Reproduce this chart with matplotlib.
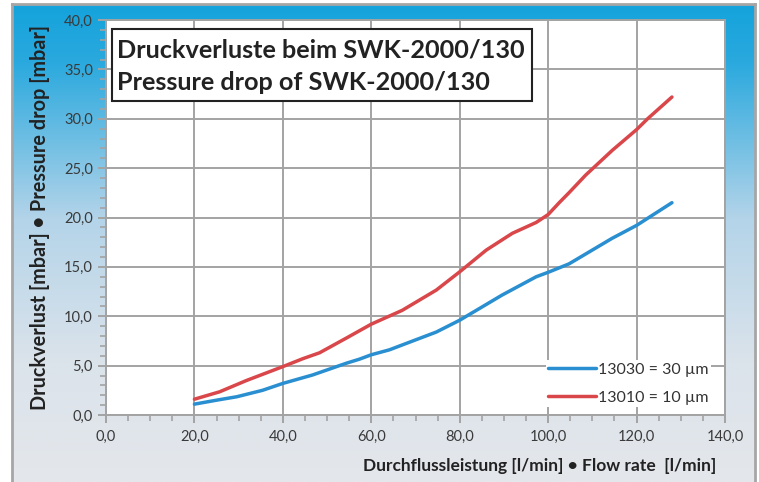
import numpy as np
import matplotlib

matplotlib.use("Agg")
import matplotlib.pyplot as plt
from matplotlib.colors import LinearSegmentedColormap
from matplotlib.patches import Rectangle
from matplotlib.ticker import FuncFormatter, MultipleLocator

plt.rcParams["font.family"] = ["Lato", "DejaVu Sans"]

# flow rate [l/min] and pressure drop [mbar]
flow_30 = [20, 25, 29.6, 35.4, 40, 46.7, 54.4, 57.3, 60, 64.1, 74.7, 80, 89.6, 97.3, 100, 104.7, 114.5, 120, 128]
drop_30 = [1.1, 1.5, 1.85, 2.5, 3.2, 4.05, 5.25, 5.65, 6.1, 6.6, 8.4, 9.6, 12.15, 14.0, 14.45, 15.3, 17.9, 19.2, 21.5]

flow_10 = [20, 25.7, 31.8, 40, 44.5, 48.3, 54.4, 60, 67, 74.7, 80, 86, 91.9, 97.3, 100, 102.5,
           104.7, 108.5, 114.5, 120, 122.5, 128]
drop_10 = [1.6, 2.35, 3.5, 4.9, 5.7, 6.3, 7.8, 9.2, 10.6, 12.65, 14.5, 16.7, 18.4, 19.5, 20.3, 21.5,
           22.5, 24.3, 26.8, 28.9, 30.0, 32.2]

label_30 = "13030 = 30 µm"
label_10 = "13010 = 10 µm"
title_lines = ["Druckverluste beim SWK-2000/130", "Pressure drop of SWK-2000/130"]

W, H = 759, 482
fig = plt.figure(figsize=(W / 100, H / 100), dpi=100, facecolor="white")

# gradient panel behind the chart
bg = fig.add_axes([12 / W, 0, (755 - 12) / W, (H - 4) / H])
cmap = LinearSegmentedColormap.from_list(
    "panel", [(0.0, "#14a3dc"), (0.12, "#2aa9de"), (0.45, "#b4d4e9"), (0.75, "#dbe3eb"), (1.0, "#e4e7eb")]
)
grad = np.linspace(0, 1, 256).reshape(-1, 1)
bg.imshow(grad, aspect="auto", cmap=cmap, extent=[0, 1, 0, 1], origin="upper")
bg.set_xticks([])
bg.set_yticks([])
for s in bg.spines.values():
    s.set_color("#a6a6a6")
    s.set_linewidth(2)
bg.spines["bottom"].set_visible(False)

ax = fig.add_axes([106 / W, (H - 415) / H, (725 - 106) / W, (415 - 20) / H])
ax.set_facecolor("white")

ax.plot(flow_30, drop_30, color="#2a8fd0", lw=2.5, label=label_30, solid_capstyle="round")
ax.plot(flow_10, drop_10, color="#d9474a", lw=2.5, label=label_10, solid_capstyle="round")

ax.set_xlim(0, 140)
ax.set_ylim(0, 40)
ax.xaxis.set_major_locator(MultipleLocator(20))
ax.xaxis.set_minor_locator(MultipleLocator(5))
ax.yaxis.set_major_locator(MultipleLocator(5))
ax.yaxis.set_minor_locator(MultipleLocator(1))
fmt = FuncFormatter(lambda v, p: f"{v:.1f}".replace(".", ","))
ax.xaxis.set_major_formatter(fmt)
ax.yaxis.set_major_formatter(fmt)
ax.grid(True, which="major", color="#a3a3a3", lw=1.4)
ax.set_axisbelow(True)
ax.tick_params(which="both", color="#a3a3a3", labelcolor="#3a3a3a", labelsize=10.5)
ax.tick_params(which="major", length=6, width=1.4)
ax.tick_params(which="minor", length=4, width=1.2)
ax.tick_params(axis="x", pad=5)
for s in ax.spines.values():
    s.set_color("#a3a3a3")
    s.set_linewidth(1.4)

ax.set_ylabel("Druckverlust [mbar] • Pressure drop [mbar]", fontsize=14.3, fontweight="bold",
              color="#222222", labelpad=10)
fig.text(716 / W, 1 - 466 / H, "Durchflussleistung [l/min] • Flow rate  [l/min]",
         ha="right", va="center", fontsize=12.5, fontweight="bold", color="#222222")

# title box
ax.add_patch(Rectangle((0.0097, 0.795), 0.678, 0.182, transform=ax.transAxes, facecolor="white",
                       edgecolor="#222222", lw=1.5, zorder=5))
for yy, line in zip([0.904, 0.823], title_lines):
    ax.text(0.018, yy, line, transform=ax.transAxes, ha="left", va="baseline",
            fontsize=18.2, fontweight="bold", color="#222222", zorder=6)

leg = ax.legend(loc="lower right", bbox_to_anchor=(0.99, 0.0), frameon=True, fancybox=False,
                edgecolor="none", facecolor="white", framealpha=1, fontsize=11.5,
                handlelength=3.0, handletextpad=0.1, labelspacing=0.85, borderpad=0.15)
for t in leg.get_texts():
    t.set_color("#333333")

fig.savefig("out.png", dpi=100, facecolor="white")
